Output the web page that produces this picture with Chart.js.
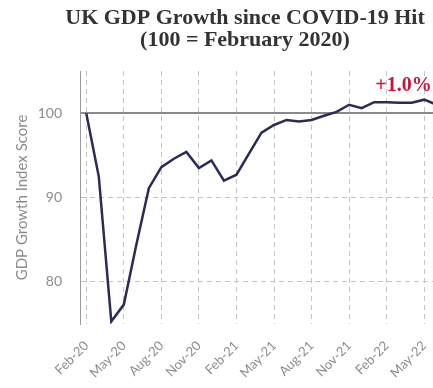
<!DOCTYPE html>
<html>
<head>
<meta charset="utf-8">
<script src="https://cdn.jsdelivr.net/npm/chart.js@4"></script>
<style>
  body { margin: 0; background: #fff; }
  #wrap { width: 433px; height: 388px; overflow: hidden; position: relative; }
  #box { width: 490px; height: 388px; }
</style>
</head>
<body>
<div id="wrap"><div id="box"><canvas id="gdp" width="490" height="388"></canvas></div></div>
<script>
// months from Feb-20 to Jun-22, one value each (index, 100 = Feb 2020)
const months = ['Feb-20','Mar-20','Apr-20','May-20','Jun-20','Jul-20','Aug-20','Sep-20','Oct-20','Nov-20','Dec-20',
  'Jan-21','Feb-21','Mar-21','Apr-21','May-21','Jun-21','Jul-21','Aug-21','Sep-21','Oct-21','Nov-21','Dec-21',
  'Jan-22','Feb-22','Mar-22','Apr-22','May-22','Jun-22'];
const gdpIndex = [100, 92.5, 75.3, 77.3, 84.4, 91.1, 93.6, 94.6, 95.4, 93.5, 94.4,
  92.0, 92.7, 95.2, 97.7, 98.6, 99.2, 99.0, 99.2, 99.7, 100.15, 101.0, 100.6,
  101.3, 101.3, 101.25, 101.25, 101.6, 101.0];
const yTicks = [80, 90, 100];
const baseline = 100;
const greyText = '#8c8c8c';
const gridGrey = '#c4c4c4';

// red "+1.0%" label next to the last point
const lastLabel = {
  id: 'lastLabel',
  afterDatasetsDraw(chart) {
    const pts = chart.getDatasetMeta(0).data;
    const p = pts[pts.length - 1];
    const change = gdpIndex[gdpIndex.length - 1] - baseline;
    const ctx = chart.ctx;
    ctx.save();
    ctx.font = 'bold 20px "Liberation Serif", "DejaVu Serif", serif';
    ctx.fillStyle = '#c8163a';
    ctx.textAlign = 'right';
    ctx.textBaseline = 'alphabetic';
    ctx.fillText((change >= 0 ? '+' : '') + change.toFixed(1) + '%', p.x - 5, p.y - 14);
    ctx.restore();
  }
};

new Chart(document.getElementById('gdp'), {
  type: 'line',
  data: {
    labels: months,
    datasets: [{
      data: gdpIndex,
      borderColor: '#2b2b58',
      borderWidth: 2.5,
      pointRadius: 0,
      tension: 0
    }]
  },
  options: {
    responsive: false,
    animation: false,
    plugins: {
      legend: { display: false },
      tooltip: { enabled: false },
      title: {
        display: true,
        text: ['UK GDP Growth since COVID-19 Hit', '(100 = February 2020)'],
        color: '#333',
        font: { family: '"Liberation Serif", "DejaVu Serif", serif', size: 22, weight: 'bold', lineHeight: 1.0 },
        padding: { top: 7, bottom: 20 }
      }
    },
    scales: {
      x: {
        offset: true,
        afterBuildTicks: (axis) => { axis.ticks = axis.ticks.filter((t, i) => i % 3 === 0); },
        afterFit: (axis) => { axis.height = 64; },
        ticks: {
          autoSkip: false,
          minRotation: 45,
          maxRotation: 45,
          padding: 14,
          color: greyText,
          font: { family: 'Lato', size: 13 }
        },
        grid: { color: gridGrey, lineWidth: 1, drawTicks: false },
        border: { display: false, dash: [5, 4] }
      },
      y: {
        min: 75,
        max: 105,
        afterBuildTicks: (axis) => { axis.ticks = yTicks.map(v => ({ value: v })); },
        afterFit: (axis) => { axis.width = 80; },
        title: {
          display: true,
          text: 'GDP Growth Index Score',
          color: greyText,
          font: { family: 'Lato', size: 15 },
          padding: { top: 13, bottom: 0 }
        },
        ticks: {
          padding: 18,
          color: greyText,
          font: { family: 'Lato', size: 14 }
        },
        grid: {
          drawTicks: false,
          color: (c) => c.tick && c.tick.value === baseline ? '#8a8a8a' : gridGrey,
          lineWidth: (c) => c.tick && c.tick.value === baseline ? 2 : 1
        },
        border: {
          display: true,
          color: '#9a9a9a',
          width: 1,
          dash: (c) => c.tick && c.tick.value === baseline ? [] : [5, 4]
        }
      },
      // empty box on the right so the title centres on the full (uncropped) width
      spacer: {
        position: 'right',
        afterFit: (axis) => { axis.width = 47; },
        grid: { display: false },
        ticks: { display: false },
        border: { display: false }
      }
    }
  },
  plugins: [lastLabel]
});
</script>
</body>
</html>
